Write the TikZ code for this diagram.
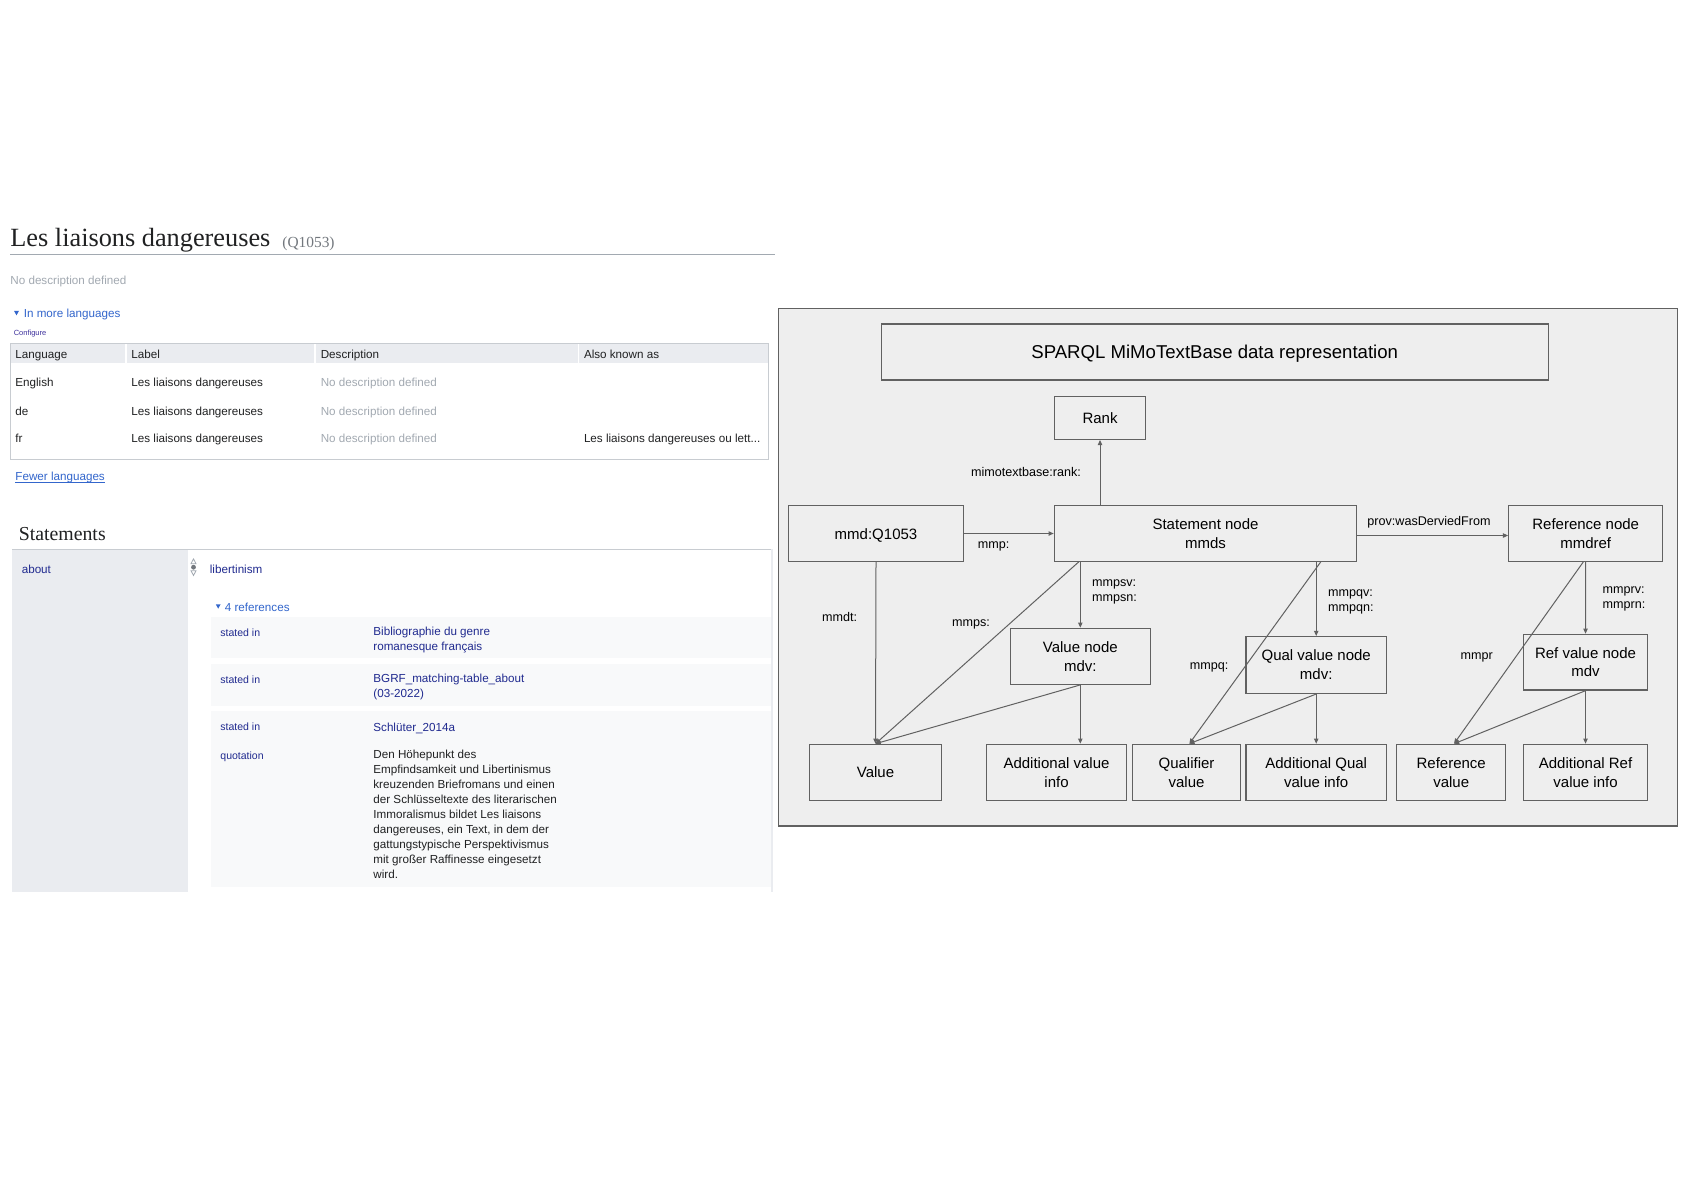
\documentclass[tikz,border=0pt]{standalone}
\usepackage{fontspec}
\setmainfont{Liberation Serif}
\setsansfont{Liberation Sans}
\usetikzlibrary{arrows.meta}
\definecolor{wtext}{HTML}{202122}
\definecolor{wgray}{HTML}{A2A9B1}
\definecolor{wdgray}{HTML}{72777D}
\definecolor{wlink}{HTML}{3366CC}
\definecolor{wnavy}{HTML}{202A8F}
\definecolor{wpurple}{HTML}{3C2F9C}
\definecolor{wborder}{HTML}{C8CCD1}
\definecolor{whead}{HTML}{EAECF0}
\definecolor{wref}{HTML}{F8F9FA}
\definecolor{dline}{HTML}{616161}
\definecolor{dpanel}{HTML}{EEEEEE}
\tikzset{
  wtxt/.style={anchor=mid west, inner sep=0pt, font=\sffamily\fontsize{5.83}{7.4}\selectfont, text=wtext},
  wsmall/.style={wtxt, font=\sffamily\fontsize{5.26}{6.5}\selectfont},
  dbox/.style={draw=dline, line width=0.6pt, inner sep=0pt, align=center, text=black,
     font=\sffamily\fontsize{7.5}{9.4}\selectfont},
  dlabel/.style={anchor=mid, inner sep=0pt, align=left, text=black, font=\sffamily\fontsize{6.3}{7.8}\selectfont},
  conn/.style={draw=dline, line width=0.5pt},
  arr/.style={conn, -{Triangle[length=2.6pt,width=2.2pt]}},
}
\begin{document}
\begin{tikzpicture}[x=0.5pt,y=-0.5pt]
\useasboundingbox (0,0) rectangle (1684,1190);
\fill[white] (0,0) rectangle (1684,1190);

% ---------------- left panel ----------------
\node[anchor=base west, inner sep=0pt, font=\rmfamily\fontsize{13.15}{15}\selectfont, text=wtext] (title) at (10,246.7) {Les liaisons dangereuses};
\node[anchor=base west, inner sep=0pt, font=\rmfamily\fontsize{7.7}{9}\selectfont, text=wdgray] (qid) at (282,247.5) {(Q1053)};
\draw[wgray, line width=0.5pt] (10,254.3) -- (775,254.3);
\node[wtxt, text=wgray] (nodesc) at (10,280) {No description defined};
\fill[wlink] (14,310.8) -- (19,310.8) -- (16.5,315.3) -- cycle;
\node[wtxt, text=wlink] (moreling) at (23.4,313.3) {In more languages};
\node[wtxt, font=\sffamily\fontsize{3.74}{4.5}\selectfont, text=wpurple] (config) at (13.4,331) {Configure};
% table
\draw[wborder, fill=white, line width=0.5pt] (10.4,343.3) rectangle (768.3,459.3);
\fill[whead] (11,343.8) rectangle (767.8,363.3);
\foreach \sx in {126,315,578.6}{\fill[white] (\sx-0.8,343.8) rectangle (\sx+0.8,363.3);}
\node[wtxt] (hlang) at (15,354.3) {Language};
\node[wtxt] (hlabel) at (131,354.3) {Label};
\node[wtxt] (hdesc) at (320.4,354.3) {Description};
\node[wtxt] (haka) at (583.6,354.3) {Also known as};
\node[wtxt] (len) at (15,382.3) {English};
\node[wtxt] (lde) at (15,410.7) {de};
\node[wtxt] (lfr) at (15,438) {fr};
\node[wtxt] (laen) at (131,382.3) {Les liaisons dangereuses};
\node[wtxt] (lade) at (131,410.7) {Les liaisons dangereuses};
\node[wtxt] (lafr) at (131,438) {Les liaisons dangereuses};
\node[wtxt, text=wgray] (den) at (320.4,382.3) {No description defined};
\node[wtxt, text=wgray] (dde) at (320.4,410.7) {No description defined};
\node[wtxt, text=wgray] (dfr) at (320.4,438) {No description defined};
\node[wtxt] (akafr) at (583.6,438) {Les liaisons dangereuses ou lett...};
\node[wtxt, text=wlink] (fewer) at (15,475.7) {Fewer languages};
\draw[wlink, line width=0.4pt] ([yshift=-0.9pt]fewer.base west) -- ([yshift=-0.9pt]fewer.base east);
% statements
\node[anchor=base west, inner sep=0pt, font=\rmfamily\fontsize{9.9}{12}\selectfont, text=wtext] (stmts) at (18.4,540) {Statements};
\fill[whead] (12.4,549.3) rectangle (188,891.7);
\draw[wborder, line width=0.5pt] (12.4,549.3) -- (772,549.3);
\draw[whead, line width=0.8pt] (771.7,549.3) -- (771.7,891.7);
\node[wtxt, text=wnavy] (about) at (21.4,569) {about};
% rank icon
\draw[wgray, line width=0.4pt] (191,563.7) -- (196,563.7) -- (193.5,558.9) -- cycle;
\fill[wdgray] (193.5,567.2) circle (2.4);
\draw[wgray, line width=0.4pt] (191,570.7) -- (196,570.7) -- (193.5,575.5) -- cycle;
\node[wtxt, text=wnavy] (libert) at (209.5,569) {libertinism};
\fill[wlink] (215.8,604.3) -- (220.6,604.3) -- (218.2,608.6) -- cycle;
\node[wtxt, text=wlink] (nref) at (224.4,606.7) {4 references};
\fill[wref] (211,616.7) rectangle (771,657.7);
\fill[wref] (211,664.3) rectangle (771,705.7);
\fill[wref] (211,711) rectangle (771,886.7);
\node[wsmall, text=wnavy] (st1) at (220,631.7) {stated in};
\node[wtxt, text=wnavy, anchor=north west, align=left] (v1) at (373,626.5) {Bibliographie du genre\\romanesque français};
\node[wsmall, text=wnavy] (st2) at (220,678.7) {stated in};
\node[wtxt, text=wnavy, anchor=north west, align=left] (v2) at (373,673.5) {BGRF\_matching-table\_about\\(03-2022)};
\node[wsmall, text=wnavy] (st3) at (220,726.3) {stated in};
\node[wtxt, text=wnavy] (v3) at (373,727) {Schlüter\_2014a};
\node[wsmall, text=wnavy] (quot) at (220,755.3) {quotation};
\node[wtxt, anchor=north west, align=left, font=\sffamily\fontsize{5.83}{7.5}\selectfont] (qtext) at (373,750) {Den Höhepunkt des\\Empfindsamkeit und Libertinismus\\kreuzenden Briefromans und einen\\der Schlüsseltexte des literarischen\\Immoralismus bildet Les liaisons\\dangereuses, ein Text, in dem der\\gattungstypische Perspektivismus\\mit großer Raffinesse eingesetzt\\wird.};

% ---------------- diagram panel ----------------
\draw[dline, fill=dpanel, line width=0.75pt] (778.3,308.7) rectangle (1677.7,826);
\node[dbox, minimum width=333.6pt, minimum height=28pt, text height=6.8pt, text depth=0pt, font=\sffamily\fontsize{9.3}{11}\selectfont] (dtitle) at (1214.7,352) {SPARQL MiMoTextBase data representation};
\node[dbox, minimum width=45.7pt, minimum height=21.3pt] (rank) at (1100,418) {Rank};
\node[dbox, minimum width=87.7pt, minimum height=27.8pt, text height=5.5pt, text depth=0pt] (mmd) at (876,533.5) {mmd:Q1053};
\node[dbox, minimum width=151.2pt, minimum height=27.8pt] (stmt) at (1205.5,533.5) {Statement node\\mmds};
\node[dbox, minimum width=77pt, minimum height=27.8pt] (refnode) at (1585.7,533.5) {Reference node\\mmdref};
\node[dbox, minimum width=70pt, minimum height=28pt] (valnode) at (1080.3,656.3) {Value node\\mdv:};
\node[dbox, minimum width=70.15pt, minimum height=28.4pt] (qualnode) at (1316.2,665) {Qual value node\\mdv:};
\node[dbox, minimum width=62.2pt, minimum height=27.85pt] (refvalnode) at (1585.5,662.2) {Ref value node\\mdv};
\node[dbox, minimum width=66.2pt, minimum height=28pt] (value) at (875.5,772.3) {Value};
\node[dbox, minimum width=70.2pt, minimum height=28pt] (addval) at (1056.5,772.3) {Additional value\\info};
\node[dbox, minimum width=54.2pt, minimum height=28pt] (qualval) at (1186.5,772.3) {Qualifier\\value};
\node[dbox, minimum width=70.15pt, minimum height=28pt] (addqual) at (1316.2,772.3) {Additional Qual\\value info};
\node[dbox, minimum width=54.5pt, minimum height=28pt] (refval) at (1451.2,772.3) {Reference\\value};
\node[dbox, minimum width=62.2pt, minimum height=28pt] (addref) at (1585.5,772.3) {Additional Ref\\value info};

% connectors
\draw[arr] (rank.south |- stmt.north) -- (rank.south);
\draw[arr] (mmd.east) -- (stmt.west);
\draw[arr] ([yshift=-1pt]stmt.east) -- ([yshift=-1pt]refnode.west);
\draw[arr] (mmd.south) -- (value.north);
\draw[arr] ([xshift=12.5pt]stmt.south west) -- (value.north);
\draw[arr] (valnode.north |- stmt.south) -- (valnode.north);
\draw[arr] (valnode.south) -- (value.north);
\draw[arr] (valnode.south) -- (valnode.south |- addval.north);
\draw[arr] ([xshift=-18.3pt]stmt.south east) -- ([xshift=1.4pt]qualval.north);
\draw[arr] (qualnode.north |- stmt.south) -- (qualnode.north);
\draw[arr] (qualnode.south) -- ([xshift=1.4pt]qualval.north);
\draw[arr] (qualnode.south) -- (addqual.north);
\draw[arr] (refnode.south) -- (refvalnode.north);
\draw[arr] ([xshift=-1.2pt]refnode.south) -- ([xshift=1.4pt]refval.north);
\draw[arr] (refvalnode.south) -- ([xshift=1.4pt]refval.north);
\draw[arr] (refvalnode.south) -- (addref.north);

% labels
\node[dlabel] (lrank) at (1026,472.3) {mimotextbase:rank:};
\node[dlabel] (lmmp) at (993.5,544) {mmp:};
\node[dlabel] (lprov) at (1429,521) {prov:wasDerviedFrom};
\node[dlabel] (lmmdt) at (839.5,617) {mmdt:};
\node[dlabel] (lmmps) at (971,622) {mmps:};
\node[dlabel, anchor=west] (lmmpsv) at (1091.7,592) {mmpsv:\\mmpsn:};
\node[dlabel] (lmmpq) at (1209,665) {mmpq:};
\node[dlabel, anchor=west] (lmmpqv) at (1327.7,601.8) {mmpqv:\\mmpqn:};
\node[dlabel, anchor=west] (lmmprv) at (1602.3,598.8) {mmprv:\\mmprn:};
\node[dlabel] (lmmpr) at (1476.7,655) {mmpr};
\end{tikzpicture}
\end{document}
